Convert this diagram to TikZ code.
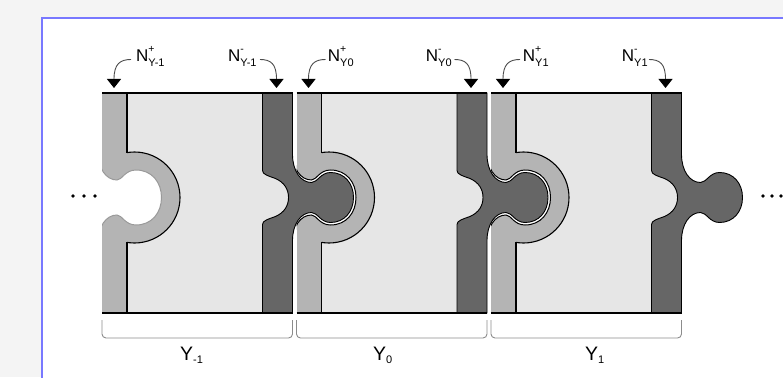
\documentclass[tikz,border=0pt]{standalone}
\usepackage{fontspec}
\setmainfont{Liberation Sans}
\usetikzlibrary{arrows.meta}
\definecolor{bgc}{HTML}{F4F4F4}
\definecolor{panelblue}{HTML}{7878FF}
\definecolor{innerc}{HTML}{E6E6E6}
\definecolor{lightstrip}{HTML}{B4B4B4}
\definecolor{darkstrip}{HTML}{666666}
\definecolor{bracec}{HTML}{8C8C8C}
% socket hole outline, #1 = right edge of previous block
\newcommand{\holecurve}[1]{(#1,151.5) .. controls (#1,168.5) and (#1+8,180) .. (#1+19,180) .. controls (#1+24,180) and (#1+27,170) .. (#1+38,170) .. controls (#1+54,170) and (#1+63.5,182.5) .. (#1+63.5,197.5) .. controls (#1+63.5,212.5) and (#1+54,225) .. (#1+38,225) .. controls (#1+27,225) and (#1+24,215) .. (#1+19,215) .. controls (#1+8,215) and (#1,226.5) .. (#1,243.5)}
% knob outline, #1 = right edge of block
\newcommand{\knobcurve}[1]{(#1,154.5) .. controls (#1,170.5) and (#1+8,182.5) .. (#1+19,182.5) .. controls (#1+25,182.5) and (#1+28,172.5) .. (#1+38,172.5) .. controls (#1+52,172.5) and (#1+61,183.5) .. (#1+61,197.5) .. controls (#1+61,211.5) and (#1+52,222.5) .. (#1+38,222.5) .. controls (#1+28,222.5) and (#1+25,212.5) .. (#1+19,212.5) .. controls (#1+8,212.5) and (#1,224.5) .. (#1,240.5)}
% notch on the left side of the dark strip, #1 = right edge of block
\newcommand{\notchcurve}[1]{(#1-30,224.5) .. controls (#1-30,220.5) and (#1-24,219) .. (#1-17,216.5) .. controls (#1-8,212.5) and (#1-4,205.5) .. (#1-4,197.5) .. controls (#1-4,189.5) and (#1-8,182.5) .. (#1-17,178.5) .. controls (#1-24,176) and (#1-30,174.5) .. (#1-30,170.5)}
\newcommand{\nlab}[2]{{\fontsize{17}{17}\selectfont N}\rlap{\raisebox{9pt}{\fontsize{10.5}{10.5}\selectfont #1}}\raisebox{-4.5pt}{\fontsize{11}{11}\selectfont #2}}
\newcommand{\ylab}[1]{{\fontsize{19.5}{19.5}\selectfont Y}\raisebox{-3pt}{\fontsize{11}{11}\selectfont #1}}
\tikzset{
  edge/.style={draw=black, line width=1.1pt},
  thickedge/.style={draw=black, line width=2.8pt},
  pointer/.style={draw=black!70, line width=0.9pt, -{Triangle[width=14pt,length=9pt,black]}},
  brace/.style={draw=bracec, line width=0.9pt, rounded corners=4pt},
  lbl/.style={anchor=base west, inner sep=0pt},
  dot/.style={fill=black}
}
\begin{document}
\begin{tikzpicture}[x=1pt,y=-1pt]
\clip (0,0) rectangle (783,377);
\fill[bgc] (0,0) rectangle (783,377);
\draw[panelblue, line width=1.5pt, fill=white] (42,18) rectangle (800,400);
% blocks: interior, light strip with socket
\foreach \i in {0,1,2}{
  \pgfmathsetmacro\xo{102+194.5*\i}
  \pgfmathsetmacro\xr{\xo+190.5}
  \pgfmathsetmacro\hh{\xo-4}
  \pgfmathtruncatemacro\hc{ifthenelse(\i==0,40,100)}
  \fill[innerc] (\xo,93) rectangle (\xr,313);
  \begin{scope}
    \clip (\xo,0) rectangle (\xo+120,400);
    \fill[lightstrip] (\xo,93) rectangle (\xo+25,313);
    \fill[lightstrip] (\xo+32.5,197.5) circle[radius=45.5pt];
    \fill[white] \holecurve{\hh} -- cycle;
    \draw[black!\hc, line width=1pt] \holecurve{\hh};
  \end{scope}
  \begin{scope}
    \clip (\xo+25,0) rectangle (\xo+120,400);
    \draw[edge] (\xo+32.5,197.5) circle[radius=45.5pt];
  \end{scope}
  \draw[edge] (\xo+25,93) -- (\xo+25,152.8) (\xo+25,242.2) -- (\xo+25,313);
}
% dark strips with knobs
\foreach \i in {0,1,2}{
  \pgfmathsetmacro\xo{102+194.5*\i}
  \pgfmathsetmacro\xr{\xo+190.5}
  \filldraw[fill=darkstrip, draw=black, line width=0.9pt] (\xr-30,93) -- (\xr,93) -- \knobcurve{\xr} -- (\xr,313) -- (\xr-30,313) -- \notchcurve{\xr} -- cycle;
  \draw[thickedge] (\xo,93) -- (\xr,93);
  \draw[thickedge] (\xo,313) -- (\xr,313);
  \draw[brace] (\xo,320) -- (\xo,338) -- (\xr,338) -- (\xr,320);
}
% labels and pointers
\foreach \i/\subt/\ysub/\pX/\mX/\yX in {0/Y-1/-1/136/228/180, 1/Y0/0/327.7/425.7/373, 2/Y1/1/522.7/621.7/585}{
  \pgfmathsetmacro\xo{102+194.5*\i}
  \pgfmathsetmacro\xr{\xo+190.5}
  \node[lbl] (np\i) at (\pX,62) {\nlab{+}{\subt}};
  \node[lbl] (nm\i) at (\mX,62) {\nlab{-}{\subt}};
  \node[lbl] (yl\i) at (\yX,360) {\ylab{\ysub}};
  \coordinate (ps\i) at (\xo+29,59.5);
  \coordinate (pe\i) at (\xo+12,88);
  \coordinate (ms\i) at (\xo+158,59.5);
  \coordinate (me\i) at (\xr-16,88);
  \draw[pointer] (ps\i) .. controls (\xo+18,59.5) and (\xo+12,64) .. (pe\i);
  \draw[pointer] (ms\i) .. controls (\xo+169,59.5) and (\xr-16,64) .. (me\i);
}
% ellipses
\foreach \x in {73,84,95,763,772,781}{
  \fill[dot] (\x,196) circle[radius=1.9pt];
}
\end{tikzpicture}
\end{document}
